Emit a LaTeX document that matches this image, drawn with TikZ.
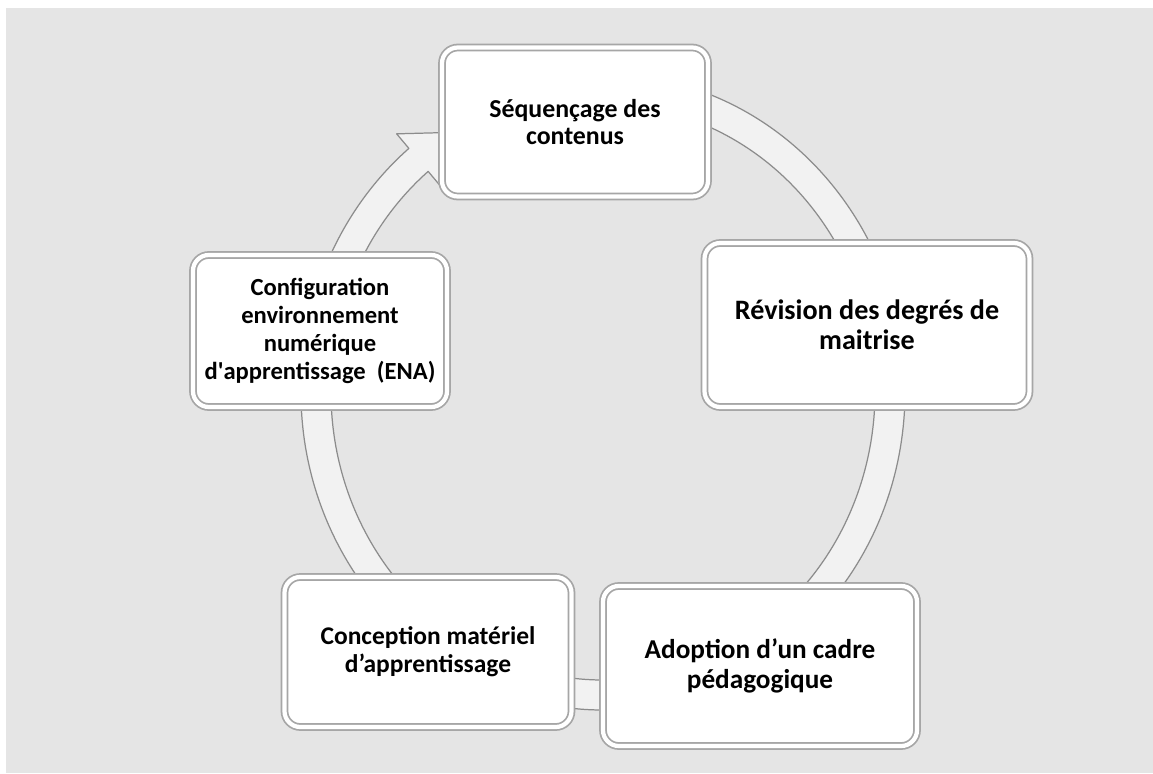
\documentclass[tikz,border=0pt]{standalone}
\usepackage{fontspec}
\setmainfont{Carlito}
\usetikzlibrary{calc,shadows}

\definecolor{fond}{HTML}{E5E5E5}
\definecolor{ringhell}{HTML}{F2F2F2}
\definecolor{ringrand}{HTML}{8C8C8C}
\definecolor{rahmen}{HTML}{A6A6A6}

\tikzset{
  etape/.style={draw=rahmen, double=white, double distance=2.4pt, line width=1pt,
    fill=white, rounded corners=9pt, align=center, font=\bfseries\fontsize{14.5}{16}\selectfont,
    inner sep=0pt, drop shadow={shadow xshift=1.4pt, shadow yshift=-1.2pt, opacity=0.55, fill=gray!80}},
  anneau/.style={fill=ringhell, draw=ringrand, line width=0.7pt, line join=round}
}

\begin{document}
\begin{tikzpicture}
\useasboundingbox (0,0) rectangle (23.06,15.46);
\fill[fond] (0.12,0) rectangle (23.06,15.30);

%RING (Ellipse um c)
\coordinate (c) at (12.06,7.62);
\draw[anneau] ($(c)+(85:6.04 and 6.36)$) arc[start angle=85, end angle=-230, x radius=6.04, y radius=6.36]
  -- ($(c)+(130:6.42 and 6.74)$) -- ($(c)+(121:5.74 and 6.06)$) -- ($(c)+(130:5.06 and 5.38)$)
  -- ($(c)+(130:5.44 and 5.76)$) arc[start angle=-230, end angle=85, x radius=5.44, y radius=5.76] -- cycle;

%ETAPE NR. 1 (oben)
\node[etape, minimum width=5.32cm, minimum height=2.98cm, font=\bfseries\fontsize{14.7}{15.5}\selectfont] (seq) at (11.5,13.02) {Séquençage des\\contenus};

%ETAPE NR. 2 (rechts)
\node[etape, minimum width=6.5cm, minimum height=3.28cm, font=\bfseries\fontsize{16}{17}\selectfont] (rev) at (17.34,8.96) {Révision des degrés de\\maitrise};

%ETAPE NR. 3 (unten rechts)
\node[etape, minimum width=6.28cm, minimum height=3.2cm, font=\bfseries\fontsize{15.5}{17}\selectfont] (ado) at (15.2,2.14) {Adoption d’un cadre\\pédagogique};

%ETAPE NR. 4 (unten links)
\node[etape, minimum width=5.74cm, minimum height=3.0cm] (con) at (8.56,2.42) {Conception matériel\\d’apprentissage};

%ETAPE NR. 5 (links)
\node[etape, minimum width=5.08cm, minimum height=3.04cm, font=\bfseries\fontsize{14}{16}\selectfont] (cfg) at (6.4,8.84) {Configuration\\environnement\\numérique\\d\textquotesingle apprentissage~~(ENA)};

\end{tikzpicture}
\end{document}
